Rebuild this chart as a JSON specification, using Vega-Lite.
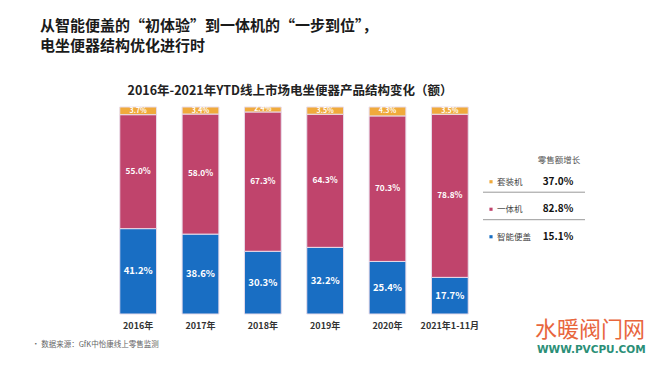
{
  "$schema": "https://vega.github.io/schema/vega-lite/v6.json",
  "width": 374,
  "height": 207,
  "autosize": {"type": "none"},
  "padding": {"left": 107, "top": 107, "right": 169, "bottom": 51},
  "background": "white",
  "config": {"font": "Noto Sans CJK SC", "view": {"stroke": null}},
  "datasets": {
    "share": [
      {"year": "2016年", "type": "智能便盖", "order": 1, "value": 41.2, "label": "41.2%"},
      {"year": "2016年", "type": "一体机", "order": 2, "value": 55.0, "label": "55.0%"},
      {"year": "2016年", "type": "套装机", "order": 3, "value": 3.7, "label": "3.7%"},
      {"year": "2017年", "type": "智能便盖", "order": 1, "value": 38.6, "label": "38.6%"},
      {"year": "2017年", "type": "一体机", "order": 2, "value": 58.0, "label": "58.0%"},
      {"year": "2017年", "type": "套装机", "order": 3, "value": 3.4, "label": "3.4%"},
      {"year": "2018年", "type": "智能便盖", "order": 1, "value": 30.3, "label": "30.3%"},
      {"year": "2018年", "type": "一体机", "order": 2, "value": 67.3, "label": "67.3%"},
      {"year": "2018年", "type": "套装机", "order": 3, "value": 2.4, "label": "2.4%"},
      {"year": "2019年", "type": "智能便盖", "order": 1, "value": 32.2, "label": "32.2%"},
      {"year": "2019年", "type": "一体机", "order": 2, "value": 64.3, "label": "64.3%"},
      {"year": "2019年", "type": "套装机", "order": 3, "value": 3.5, "label": "3.5%"},
      {"year": "2020年", "type": "智能便盖", "order": 1, "value": 25.4, "label": "25.4%"},
      {"year": "2020年", "type": "一体机", "order": 2, "value": 70.3, "label": "70.3%"},
      {"year": "2020年", "type": "套装机", "order": 3, "value": 4.3, "label": "4.3%"},
      {"year": "2021年1-11月", "type": "智能便盖", "order": 1, "value": 17.7, "label": "17.7%"},
      {"year": "2021年1-11月", "type": "一体机", "order": 2, "value": 78.8, "label": "78.8%"},
      {"year": "2021年1-11月", "type": "套装机", "order": 3, "value": 3.5, "label": "3.5%"}
    ],
    "growth": [
      {"type": "套装机", "growth": "37.0%"},
      {"type": "一体机", "growth": "82.8%"},
      {"type": "智能便盖", "growth": "15.1%"}
    ]
  },
  "resolve": {"scale": {"y": "independent"}},
  "layer": [
    {
      "data": {"name": "share"},
      "mark": {"type": "bar", "stroke": "#e8dcea", "strokeWidth": 1},
      "encoding": {
        "x": {"field": "year", "type": "nominal", "sort": ["2016年", "2017年", "2018年", "2019年", "2020年", "2021年1-11月"], "scale": {"paddingInner": 0.41, "paddingOuter": 0.205}, "axis": {"title": null, "domain": false, "ticks": false, "labelAngle": 0, "labelFontSize": 9, "labelFontWeight": "bold", "labelColor": "#333333", "labelPadding": 7}},
        "y": {"field": "value", "type": "quantitative", "stack": "normalize", "axis": null},
        "color": {"field": "type", "type": "nominal", "scale": {"domain": ["套装机", "一体机", "智能便盖"], "range": ["#f0aa3c", "#c0446c", "#196ec3"]}, "legend": null},
        "order": {"field": "order", "type": "quantitative"}
      }
    },
    {
      "data": {"name": "share"},
      "mark": {"type": "text", "color": "white", "fontWeight": "bold", "baseline": "middle"},
      "encoding": {
        "x": {"field": "year", "type": "nominal", "sort": ["2016年", "2017年", "2018年", "2019年", "2020年", "2021年1-11月"]},
        "y": {"field": "value", "type": "quantitative", "stack": "normalize", "bandPosition": 0.5, "axis": null},
        "detail": {"field": "type"},
        "order": {"field": "order", "type": "quantitative"},
        "text": {"field": "label"},
        "size": {"field": "type", "type": "nominal", "scale": {"domain": ["套装机", "一体机", "智能便盖"], "range": [7, 9.5, 9.5]}, "legend": null}
      }
    },
    {
      "data": {"name": "growth"},
      "transform": [{"filter": "datum.type != '智能便盖'"}],
      "mark": {"type": "rule", "color": "#999999", "strokeWidth": 1},
      "encoding": {
        "y": {"field": "type", "type": "nominal", "bandPosition": 0.88, "scale": {"type": "band", "domain": ["套装机", "一体机", "智能便盖"], "range": [61, 143.5], "paddingInner": 0, "paddingOuter": 0}, "axis": null},
        "x": {"value": 376},
        "x2": {"value": 478}
      }
    },
    {
      "data": {"name": "growth"},
      "mark": {"type": "square", "size": 10, "opacity": 1, "filled": true},
      "encoding": {
        "y": {"field": "type", "type": "nominal", "scale": {"type": "band", "domain": ["套装机", "一体机", "智能便盖"], "range": [61, 143.5], "paddingInner": 0, "paddingOuter": 0}, "axis": null},
        "x": {"value": 384},
        "color": {"field": "type", "type": "nominal", "legend": null}
      }
    },
    {
      "data": {"name": "growth"},
      "mark": {"type": "text", "align": "left", "baseline": "middle", "fontSize": 8.5, "color": "#444444"},
      "encoding": {
        "y": {"field": "type", "type": "nominal", "scale": {"type": "band", "domain": ["套装机", "一体机", "智能便盖"], "range": [61, 143.5], "paddingInner": 0, "paddingOuter": 0}, "axis": null},
        "x": {"value": 390},
        "text": {"field": "type"}
      }
    },
    {
      "data": {"name": "growth"},
      "mark": {"type": "text", "align": "center", "baseline": "middle", "fontSize": 10, "fontWeight": "bold", "color": "#111111"},
      "encoding": {
        "y": {"field": "type", "type": "nominal", "scale": {"type": "band", "domain": ["套装机", "一体机", "智能便盖"], "range": [61, 143.5], "paddingInner": 0, "paddingOuter": 0}, "axis": null},
        "x": {"value": 451},
        "text": {"field": "growth"}
      }
    },
    {
      "data": {"values": [{"t": "零售额增长"}]},
      "mark": {"type": "text", "align": "center", "baseline": "middle", "fontSize": 8.5, "color": "#555555"},
      "encoding": {"x": {"value": 452}, "y": {"value": 53}, "text": {"field": "t"}}
    },
    {
      "data": {"values": [{"t": "2016年-2021年YTD线上市场电坐便器产品结构变化（额）"}]},
      "mark": {"type": "text", "align": "center", "baseline": "middle", "fontSize": 12.5, "fontWeight": "bold", "color": "#222222"},
      "encoding": {"x": {"value": 183}, "y": {"value": -16}, "text": {"field": "t"}}
    },
    {
      "data": {"values": [{"t": "从智能便盖的“初体验”到一体机的“一步到位”，"}]},
      "mark": {"type": "text", "align": "left", "baseline": "middle", "fontSize": 15, "fontWeight": "bold", "color": "#1a1a1a"},
      "encoding": {"x": {"value": -67}, "y": {"value": -81}, "text": {"field": "t"}}
    },
    {
      "data": {"values": [{"t": "电坐便器结构优化进行时"}]},
      "mark": {"type": "text", "align": "left", "baseline": "middle", "fontSize": 15, "fontWeight": "bold", "color": "#1a1a1a"},
      "encoding": {"x": {"value": -67}, "y": {"value": -61.5}, "text": {"field": "t"}}
    },
    {
      "data": {"values": [{"t": "•  数据来源：GfK中怡康线上零售监测"}]},
      "mark": {"type": "text", "align": "left", "baseline": "middle", "fontSize": 7.5, "color": "#666666"},
      "encoding": {"x": {"value": -75}, "y": {"value": 238}, "text": {"field": "t"}}
    },
    {
      "data": {"values": [{"t": "水暖阀门网"}]},
      "mark": {"type": "text", "align": "left", "baseline": "middle", "fontSize": 22, "color": "#e8663d"},
      "encoding": {"x": {"value": 428}, "y": {"value": 223}, "text": {"field": "t"}}
    },
    {
      "data": {"values": [{"t": "WWW.PVCPU.COM"}]},
      "mark": {"type": "text", "align": "left", "baseline": "middle", "fontSize": 10.5, "fontWeight": "bold", "font": "DejaVu Sans", "color": "#2b8f77"},
      "encoding": {"x": {"value": 430}, "y": {"value": 243}, "text": {"field": "t"}}
    }
  ]
}
